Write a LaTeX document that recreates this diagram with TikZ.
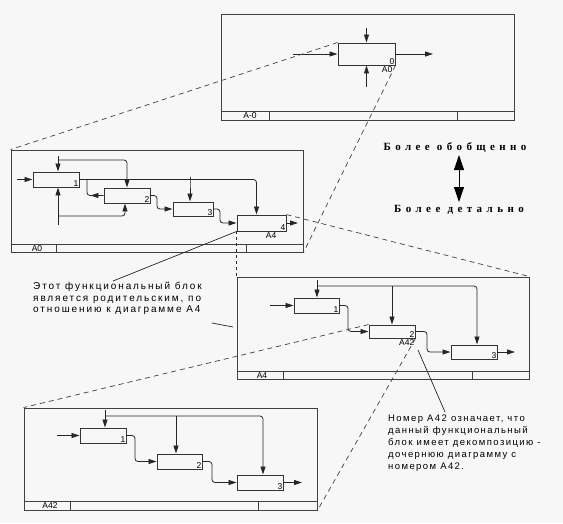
\documentclass[tikz,border=0pt]{standalone}
\usepackage{fontspec}
\setmainfont{Liberation Serif}
\setsansfont{Liberation Sans}
\newfontfamily\ttlfont[LetterSpace=40]{Liberation Serif}
\newfontfamily\notefontA[LetterSpace=19]{Liberation Sans}
\newfontfamily\notefontB[LetterSpace=15]{Liberation Sans}
\usetikzlibrary{arrows.meta,decorations.markings}
\begin{document}
\begin{tikzpicture}[x=1pt,y=-1pt,
  frm/.style={draw=black!75, line width=0.9pt, inner sep=0pt},
  bar/.style={draw=black!75, line width=0.9pt},
  blk/.style={draw=black!80, line width=0.9pt, inner sep=0pt},
  con/.style={line width=0.8pt, draw=black!85, rounded corners=3pt},
  arr/.style={con, -{Triangle[length=8pt,width=5pt]}},
  num/.style={font=\sffamily\fontsize{8.5}{8.5}\selectfont, inner sep=1pt},
  dsh/.style={draw=black!75, line width=0.7pt, dash pattern=on 5pt off 4pt},
  dotl/.style={draw=black!85, line width=0.8pt, dash pattern=on 3pt off 3pt},
  ldr/.style={draw=black!85, line width=0.7pt},
  noteA/.style={font=\notefontA\fontsize{10}{11.5}\selectfont, inner sep=0pt, align=left},
  noteB/.style={font=\notefontB\fontsize{9.5}{12}\selectfont, inner sep=0pt, align=left},
  ttl/.style={font=\ttlfont\bfseries\fontsize{11}{13}\selectfont, inner sep=0pt},
  midarr/.style={con, postaction={decorate}, decoration={markings, mark=at position 0.42 with {\arrow{Triangle[length=8pt,width=5pt]}}}},
]
\useasboundingbox (0,0) rectangle (563,523);
\fill[black!3] (0,0) rectangle (563,523);

% ---------- frames ----------
\node[frm, minimum width=293pt, minimum height=106pt] (f0) at (367.5,67) {};
\draw[bar] (221,111) -- (514,111) (269,111) -- (269,120) (457,111) -- (457,120);
\node[num] (lf0) at (250,116) {A-0};

\node[frm, minimum width=292pt, minimum height=102pt] (fA0) at (157,201) {};
\draw[bar] (11,244) -- (303,244) (56,244) -- (56,252) (246,244) -- (246,252);
\node[num] (lfA0) at (37,248.5) {A0};

\node[frm, minimum width=292pt, minimum height=102pt] (fA4) at (383,328) {};
\draw[bar] (237,371) -- (529,371) (283,371) -- (283,379) (472,371) -- (472,379);
\node[num] (lfA4) at (262,375.5) {A4};

\node[frm, minimum width=293pt, minimum height=102pt] (fA42) at (170.5,459) {};
\draw[bar] (24,501) -- (317,501) (70,501) -- (70,510) (258,501) -- (258,510);
\node[num] (lfA42) at (50,506) {A42};

% ---------- A-0 ----------
\node[blk, minimum width=57pt, minimum height=22pt] (box0) at (366.5,54) {};
\node[num, anchor=south east] at (box0.south east) {0};
\node[num, anchor=north east] at ([xshift=-2pt]box0.south east) {A0};
\coordinate (i0) at (293,54); \draw[arr] (i0) -- (box0.west);
\coordinate (o0) at (433,54); \draw[arr] (box0.east) -- (o0);
\coordinate (k0) at (366.5,28); \draw[arr] (k0) -- (box0.north);
\coordinate (m0) at (366.5,87); \draw[arr] (m0) -- (box0.south);

% ---------- A0 ----------
\node[blk, minimum width=46pt, minimum height=15pt] (b1) at (56,179.5) {};
\node[blk, minimum width=46pt, minimum height=15pt] (b2) at (127,195.5) {};
\node[blk, minimum width=40pt, minimum height=14pt] (b3) at (193,209) {};
\node[blk, minimum width=49pt, minimum height=16pt] (b4) at (261.5,223) {};
\node[num, anchor=south east] at (b1.south east) {1};
\node[num, anchor=south east] at (b2.south east) {2};
\node[num, anchor=south east] at (b3.south east) {3};
\node[num, anchor=south east] at (b4.south east) {4};
\node[num, anchor=north east] at ([xshift=-9pt]b4.south east) {A4};
\coordinate (a0in) at (17,179.5); \draw[arr] (a0in) -- (b1.west);
\coordinate (a0k) at (58,156); \draw[arr] (a0k) -- (a0k |- b1.north);
\coordinate (a0kb) at (58,160); \draw[arr] (a0kb) -| (b2.north);
\draw[arr] (b1.east) -| ([xshift=-5pt]b4.north);
\coordinate (a0br) at (190,179.5); \draw[arr] (a0br) -| ([xshift=-3pt]b3.north);
\coordinate (a0fb) at (87,179.5);
\draw[midarr] (b2.west) -| (a0fb);
\coordinate (a0m) at (58,225); \draw[arr] (a0m) -- (a0m |- b1.south);
\coordinate (a0mb) at (58,216); \draw[arr] (a0mb) -| ([xshift=-2pt]b2.south);
\coordinate (a0c2) at (157,209); \draw[arr] (b2.east) -| (a0c2) -- (b3.west);
\coordinate (a0c3) at (220,223); \draw[arr] (b3.east) -| (a0c3) -- (b4.west);
\coordinate (a0out) at (298,223); \draw[arr] (b4.east) -- (a0out);

% ---------- A4 ----------
\node[blk, minimum width=45pt, minimum height=15pt] (c1) at (316.5,305.5) {};
\node[blk, minimum width=46pt, minimum height=13pt] (c2) at (392,331.5) {};
\node[blk, minimum width=46pt, minimum height=14pt] (c3) at (474,352) {};
\node[num, anchor=south east] at (c1.south east) {1};
\node[num, anchor=south east] at (c2.south east) {2};
\node[num, anchor=south east] at (c3.south east) {3};
\node[num, anchor=north east] (lA42) at (c2.south east) {A42};
\coordinate (a4k) at (317,280); \draw[arr] (a4k) -- (a4k |- c1.north);
\coordinate (a4kb) at (317,286); \draw[arr] (a4kb) -| ([xshift=3pt]c3.north);
\coordinate (a4kc) at (392,286); \draw[arr] (a4kc) -- (c2.north);
\coordinate (a4in) at (270,305.5); \draw[arr] (a4in) -- (c1.west);
\coordinate (a4c1) at (348,331.5); \draw[arr] (c1.east) -| (a4c1) -- (c2.west);
\coordinate (a4c2) at (427,352); \draw[arr] (c2.east) -| (a4c2) -- (c3.west);
\coordinate (a4out) at (515,352); \draw[arr] (c3.east) -- (a4out);

% ---------- A42 ----------
\node[blk, minimum width=46pt, minimum height=15pt] (d1) at (103,435.5) {};
\node[blk, minimum width=45pt, minimum height=15pt] (d2) at (179.5,461.5) {};
\node[blk, minimum width=46pt, minimum height=15pt] (d3) at (260,482.5) {};
\node[num, anchor=south east] at (d1.south east) {1};
\node[num, anchor=south east] at (d2.south east) {2};
\node[num, anchor=south east] at (d3.south east) {3};
\coordinate (a42k) at (105,410); \draw[arr] (a42k) -- (a42k |- d1.north);
\coordinate (a42kb) at (105,416); \draw[arr] (a42kb) -| ([xshift=3pt]d3.north);
\coordinate (a42kc) at (176,416); \draw[arr] (a42kc) -- (a42kc |- d2.north);
\coordinate (a42in) at (57,435.5); \draw[arr] (a42in) -- (d1.west);
\coordinate (a42c1) at (135,461.5); \draw[arr] (d1.east) -| (a42c1) -- (d2.west);
\coordinate (a42c2) at (212,482.5); \draw[arr] (d2.east) -| (a42c2) -- (d3.west);
\coordinate (a42out) at (302,482.5); \draw[arr] (d3.east) -- (a42out);

% ---------- projection lines ----------
\draw[dsh] (box0.north west) -- (fA0.north west);
\draw[dsh] (box0.south east) -- (fA0.south east);
\draw[dotl] (b4.south west) -- (fA4.north west);
\draw[dsh] (b4.north east) -- (fA4.north east);
\draw[dsh] (c2.north west) -- (fA42.north west);
\draw[dsh] (c2.south east) -- (fA42.south east);

% ---------- annotations ----------
\node[noteA, anchor=north west] (t1) at (33,282) {Этот функциональный блок\\является родительским, по\\отношению к диаграмме А4};
\coordinate (t1p) at (113,281);
\draw[ldr] (b4.south west) -- (t1p);
\coordinate (s1) at (212,323); \coordinate (s2) at (233,327);
\draw[ldr] (s1) -- (s2);

\node[noteB, anchor=north west] (t2) at (388,415) {Номер А42 означает, что\\данный функциональный\\блок имеет декомпозицию -\\дочернюю диаграмму с\\номером А42.};
\coordinate (t2p) at (445,412); \coordinate (l42p) at (418,350);
\draw[ldr] (l42p) -- (t2p);

\node[ttl] (g1) at (455,148) {Более обобщенно};
\node[ttl] (g2) at (459,210) {Более детально};
\coordinate (up) at (459,155); \coordinate (dn) at (459,202);
\draw[line width=0.8pt, {Triangle[length=15pt,width=10pt]}-{Triangle[length=15pt,width=10pt]}] (up) -- (dn);
\end{tikzpicture}
\end{document}
